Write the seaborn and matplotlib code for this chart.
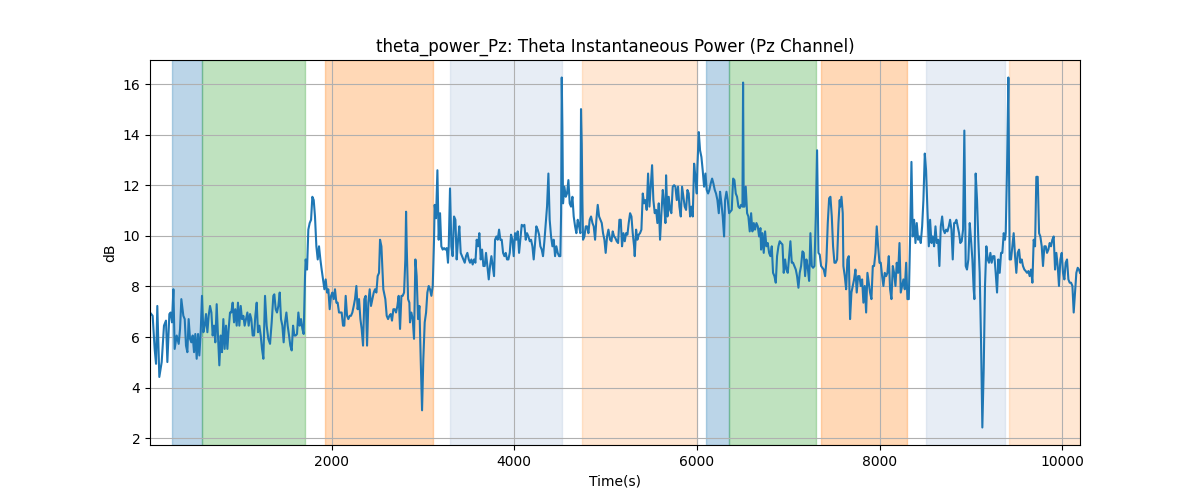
import matplotlib
matplotlib.use("Agg")
import matplotlib.pyplot as plt
import seaborn as sns
import pandas as pd

# ---- data ----
time_s = [
    13, 42, 64, 79, 93, 115, 141, 166, 188, 203, 225, 239, 254, 269, 283, 305, 327, 342, 356, 378,
    393, 407, 422, 436, 451, 466, 480, 495, 509, 524, 539, 553, 568, 582, 597, 612, 626, 641, 655, 670,
    685, 699, 714, 728, 743, 757, 772, 787, 801, 816, 830, 845, 860, 874, 889, 903, 918, 933, 947, 962,
    976, 991, 1006, 1020, 1035, 1049, 1064, 1079, 1093, 1108, 1122, 1137, 1152, 1166, 1181, 1195, 1210,
    1225, 1239, 1254,
    1272, 1290, 1308, 1327, 1345, 1363, 1374, 1389, 1403, 1418, 1433, 1447, 1462, 1476, 1491, 1506, 1520,
    1535, 1549, 1564, 1579, 1593, 1608, 1622, 1637, 1652, 1666, 1681, 1695, 1710, 1717, 1732, 1746, 1761,
    1776, 1790, 1805, 1819, 1834, 1849, 1863, 1878, 1892, 1907, 1922, 1936, 1951, 1965, 1980, 1995, 2009,
    2024, 2038, 2053, 2067, 2082, 2097, 2111, 2126, 2140, 2155, 2170, 2184, 2199, 2213, 2228, 2243, 2257,
    2272, 2286, 2301, 2316, 2330, 2345, 2359, 2374, 2389, 2403, 2418, 2432, 2447, 2462, 2476, 2491, 2505,
    2520,
    2531, 2546, 2567, 2589, 2604, 2619, 2633, 2648, 2662, 2677, 2692, 2706, 2721, 2735, 2750, 2765, 2779,
    2794, 2808, 2816, 2823, 2838, 2852, 2859, 2874, 2889, 2903, 2918, 2932, 2947, 2962, 2976, 2991, 3005,
    3020, 3035, 3049, 3064, 3078, 3093, 3108, 3122, 3129, 3144, 3159, 3173, 3188, 3202, 3217, 3232, 3246,
    3261, 3275, 3283, 3297, 3312, 3326, 3341, 3356, 3370, 3385, 3399, 3414, 3429, 3443, 3458, 3472, 3487,
    3502, 3516, 3531, 3545, 3560, 3575, 3589, 3604, 3618, 3633, 3648, 3662, 3677, 3691, 3706, 3721, 3735,
    3750, 3764, 3779,
    3790, 3805, 3819, 3834, 3848, 3863, 3878, 3892, 3907, 3921, 3936, 3951, 3965, 3980, 3994, 4009, 4024,
    4038, 4053, 4067, 4082, 4097, 4111, 4126, 4140, 4155, 4170, 4184, 4199, 4213, 4228, 4242, 4257, 4272,
    4286, 4301, 4315, 4330, 4345, 4359, 4374, 4388, 4403, 4418, 4432, 4447, 4461, 4476, 4491, 4505, 4513,
    4520, 4527, 4534, 4549, 4564, 4578, 4593, 4607, 4622, 4637, 4651, 4666, 4680, 4695, 4710, 4724, 4731,
    4739, 4746, 4753, 4768, 4783, 4797, 4812, 4826, 4841, 4856, 4870, 4885, 4899, 4914, 4929, 4943, 4958,
    4972, 4987, 5001, 5016, 5031,
    5049, 5064, 5078, 5093, 5107, 5122, 5137, 5151, 5166, 5180, 5195, 5210, 5224, 5239, 5253, 5268, 5283,
    5297, 5312, 5319, 5334, 5348, 5363, 5377, 5392, 5407, 5421, 5436, 5450, 5465, 5480, 5494, 5509, 5523,
    5538, 5553, 5567, 5582, 5596, 5611, 5626, 5640, 5655, 5662, 5677, 5691, 5706, 5720, 5735, 5750, 5764,
    5779, 5793, 5808, 5823, 5837, 5852, 5866, 5881, 5896, 5910, 5925, 5939, 5954, 5969, 5983, 5998, 6005,
    6020, 6034, 6049, 6063, 6078, 6093, 6107, 6122, 6136, 6151, 6166, 6180, 6195, 6209, 6224, 6239, 6253,
    6268, 6282, 6297,
    6308, 6323, 6337, 6352, 6366, 6381, 6396, 6410, 6425, 6439, 6454, 6469, 6483, 6498, 6505, 6512, 6520,
    6534, 6549, 6563, 6578, 6593, 6607, 6622, 6636, 6651, 6666, 6680, 6695, 6702, 6717, 6731, 6746, 6760,
    6775, 6790, 6804, 6819, 6833, 6848, 6863, 6877, 6892, 6906, 6921, 6936, 6950, 6965, 6979, 6994, 7009,
    7023, 7038, 7052, 7067, 7082, 7096, 7111, 7125, 7140, 7155, 7169, 7184, 7198, 7213, 7228, 7242, 7257,
    7271, 7286, 7301, 7315, 7330, 7344, 7359, 7374, 7388, 7403, 7417, 7432, 7447, 7461, 7476, 7490, 7505,
    7519, 7534, 7549, 7563,
    7567, 7582, 7596, 7603, 7618, 7633, 7647, 7662, 7676, 7691, 7706, 7720, 7735, 7749, 7764, 7779, 7793,
    7808, 7822, 7837, 7852, 7866, 7881, 7895, 7910, 7925, 7939, 7954, 7968, 7983, 7998, 8012, 8027, 8041,
    8056, 8071, 8085, 8100, 8114, 8129, 8144, 8158, 8173, 8187, 8202, 8217, 8231, 8246, 8260, 8275, 8290,
    8304, 8319, 8333, 8348, 8362, 8377, 8392, 8406, 8421, 8436, 8450, 8465, 8479, 8494, 8508, 8523, 8538,
    8552, 8567, 8581, 8596, 8611, 8625, 8640, 8654, 8669, 8684, 8698, 8713, 8727, 8742, 8757, 8771, 8786,
    8800, 8815,
    8825, 8840, 8854, 8869, 8883, 8898, 8913, 8927, 8942, 8956, 8971, 8986, 9000, 9015, 9029, 9037, 9044,
    9051, 9066, 9080, 9095, 9110, 9124, 9139, 9153, 9168, 9183, 9197, 9212, 9226, 9241, 9256, 9270, 9285,
    9299, 9314, 9329, 9343, 9358, 9372, 9380, 9394, 9409, 9423, 9438, 9453, 9467, 9482, 9496, 9511, 9526,
    9540, 9555, 9569, 9584, 9599, 9613, 9628, 9642, 9657, 9672, 9686, 9701, 9715, 9730, 9745, 9759, 9774,
    9788, 9803, 9818, 9832, 9847, 9861, 9876, 9890, 9905, 9920, 9934, 9949, 9963, 9978, 9993, 10007, 10022,
    10036, 10051, 10066, 10080, 10095, 10110, 10124, 10139, 10153, 10168, 10182, 10193,
]

power_db = [
    6.97, 6.84, 5.53, 4.94, 7.23, 4.42, 5.01, 6.45, 6.65, 5.01, 6.91, 6.97, 6.58, 7.89, 5.53, 6.06, 5.73, 6.32, 7.50, 6.84,
    6.71, 5.66, 5.40, 6.71, 5.93, 5.79, 6.06, 5.40, 6.12, 5.14, 6.12, 5.27, 6.19, 7.63, 6.19, 6.45, 6.91, 6.19, 6.84, 7.23,
    6.97, 6.06, 6.45, 5.79, 7.30, 6.06, 4.88, 6.06, 5.40, 6.71, 5.53, 6.45, 5.53, 6.32, 6.97, 6.97, 7.36, 6.58, 7.10, 6.45,
    7.36, 6.45, 7.23, 6.71, 6.84, 6.45, 6.71, 6.97, 6.45, 6.91, 6.71, 6.06, 6.06, 6.84, 7.36, 6.19, 6.45,
    6.06, 5.53, 5.14,
    7.63, 6.45, 5.93, 5.73, 6.58, 7.63, 7.69, 7.10, 6.97, 7.23, 7.76, 6.71, 6.45, 5.79, 6.58, 6.97, 6.45,
    6.06, 5.66, 5.47, 6.45, 6.06, 6.06, 6.12, 6.97, 6.45, 6.71, 6.32, 6.12, 8.41, 9.07, 8.67, 10.25, 10.51,
    10.64, 11.55, 11.42, 10.77, 9.59, 9.07, 9.59, 9.07, 8.67, 8.28, 7.89, 8.28, 7.76, 7.89, 7.10, 7.63, 7.76,
    7.50, 7.89, 7.36, 7.36, 6.97, 6.97, 6.97, 6.45, 6.45, 7.63, 6.84, 6.71, 6.84, 6.84, 6.97, 7.23, 7.50,
    8.02, 7.10, 7.50, 6.71, 6.32, 5.66, 7.50, 7.63, 5.66, 7.36, 7.89, 7.23, 7.50, 7.76, 7.89, 7.76, 8.41,
    8.54,
    9.85, 9.59, 7.89, 7.50, 6.84, 6.71, 6.84, 6.91, 6.65, 7.10, 7.10, 6.97, 7.23, 7.63, 6.32, 7.63, 7.63,
    7.76, 9.07, 10.96, 9.59, 7.50, 7.36, 6.58, 6.97, 6.71, 5.93, 9.07, 8.41, 6.71, 7.23, 5.14, 3.10, 5.14,
    6.58, 6.97, 7.76, 8.02, 7.89, 7.63, 8.02, 9.85, 11.23, 10.70, 12.60, 9.85, 10.90, 9.59, 9.46, 9.52, 9.46,
    9.52, 8.94, 9.59, 11.88, 9.59, 9.20, 10.77, 10.64, 9.07, 9.85, 10.38, 9.33, 9.20, 9.07, 8.94, 9.20, 9.33,
    9.07, 8.94, 9.07, 8.87, 9.07, 8.94, 9.85, 9.59, 10.11, 9.07, 9.46, 8.81, 8.81, 9.33, 8.81, 8.28, 8.81,
    9.20, 8.81, 8.41,
    9.85, 9.98, 9.85, 10.25, 9.85, 9.85, 9.33, 9.20, 9.33, 9.07, 9.07, 9.33, 10.05, 9.85, 9.20, 10.11, 9.85,
    10.18, 9.33, 9.85, 10.44, 10.38, 10.44, 9.85, 10.11, 9.98, 9.79, 9.85, 9.59, 9.07, 9.72, 10.38, 10.25, 10.05,
    9.59, 9.46, 9.20, 9.79, 10.51, 11.16, 12.47, 10.64, 9.98, 9.59, 9.85, 9.20, 9.59, 9.33, 9.20, 9.20, 10.90,
    16.27, 14.30, 11.29, 11.95, 11.55, 11.68, 12.21, 11.29, 11.16, 11.55, 10.77, 10.38, 10.11, 10.64, 10.38, 10.11, 15.02,
    13.65, 11.42, 9.85, 9.98, 10.38, 10.38, 10.11, 10.64, 10.77, 10.51, 10.38, 9.85, 10.64, 11.23, 10.77, 10.64, 10.51,
    10.11, 9.85, 9.33, 9.98, 10.25,
    9.85, 9.79, 10.18, 9.98, 9.92, 9.79, 9.72, 10.64, 10.64, 9.59, 10.11, 9.79, 10.11, 10.05, 10.51, 10.90, 10.77,
    10.11, 9.59, 9.20, 10.25, 9.85, 10.05, 10.11, 10.25, 11.68, 11.29, 11.42, 11.03, 12.47, 11.16, 11.95, 12.80, 11.42,
    10.90, 11.03, 10.51, 11.29, 9.85, 10.90, 11.82, 11.29, 10.51, 12.40, 10.77, 11.55, 11.03, 10.90, 11.95, 12.01, 11.95,
    11.42, 11.95, 11.16, 10.77, 11.95, 11.55, 11.16, 11.03, 11.82, 11.68, 10.77, 11.16, 10.77, 12.86, 12.34, 11.68, 12.73,
    14.11, 13.39, 13.12, 12.60, 11.95, 12.47, 11.82, 11.68, 11.82, 12.08, 12.27, 12.08, 11.82, 11.68, 11.42, 10.90, 11.75,
    11.29, 10.77, 9.98,
    11.42, 11.75, 11.42, 10.90, 10.96, 11.03, 12.27, 12.21, 11.68, 11.55, 11.16, 11.10, 11.23, 11.16, 16.07, 11.16, 11.16,
    11.95, 10.90, 10.77, 10.18, 10.90, 10.18, 10.51, 10.25, 10.51, 10.38, 9.98, 10.31, 9.46, 10.11, 9.33, 10.18, 9.59,
    9.72, 9.33, 9.20, 9.59, 8.54, 8.41, 8.15, 9.20, 9.59, 9.79, 9.72, 9.66, 8.54, 9.07, 8.67, 8.54, 9.20,
    9.79, 8.94, 8.94, 8.81, 8.67, 8.41, 7.95, 8.54, 8.81, 9.39, 9.33, 8.41, 9.07, 8.74, 8.22, 10.11, 8.81,
    8.74, 8.81, 10.77, 13.39, 9.33, 9.26, 8.81, 8.74, 8.67, 8.41, 9.00, 10.51, 11.49, 11.55, 10.77, 9.59, 8.94,
    8.94, 9.07, 10.51, 11.42,
    11.16, 11.55, 10.90, 8.81, 8.41, 7.89, 9.07, 9.20, 6.71, 7.76, 8.02, 8.28, 8.67, 7.76, 8.41, 8.41, 8.02,
    8.28, 7.36, 8.02, 6.97, 8.54, 8.15, 7.76, 7.50, 8.81, 8.81, 9.33, 10.38, 9.59, 8.94, 8.94, 8.41, 8.02,
    8.54, 8.41, 8.54, 9.20, 7.89, 7.50, 8.81, 8.54, 8.02, 8.94, 8.54, 9.72, 7.76, 8.02, 8.28, 7.89, 8.94,
    7.50, 7.50, 9.85, 12.93, 9.98, 10.64, 9.72, 10.51, 9.85, 9.98, 9.72, 10.38, 11.42, 13.26, 12.60, 11.03, 9.59,
    10.64, 9.72, 9.98, 9.59, 10.38, 9.72, 9.85, 8.81, 10.38, 10.77, 10.25, 10.11, 10.25, 10.18, 10.38, 10.64, 10.25,
    9.07, 10.51,
    10.51, 10.64, 10.38, 10.11, 9.72, 9.79, 10.25, 14.17, 8.81, 8.67, 9.07, 10.51, 9.85, 9.07, 7.89, 7.50, 10.64,
    12.47, 11.42, 9.85, 8.54, 5.79, 2.42, 4.75, 8.02, 9.59, 9.07, 8.94, 9.33, 8.94, 9.20, 9.20, 8.54, 7.76,
    9.07, 8.54, 9.33, 9.33, 10.11, 9.85, 10.11, 12.60, 16.27, 9.07, 9.07, 9.59, 10.11, 9.20, 8.54, 9.33, 9.46,
    8.94, 9.07, 8.81, 8.67, 8.61, 8.54, 8.61, 8.41, 8.67, 8.15, 9.85, 9.59, 12.34, 12.34, 10.11, 9.98, 9.59,
    8.81, 9.59, 9.59, 9.33, 9.46, 9.72, 9.59, 9.85, 9.98, 8.67, 9.33, 8.81, 8.02, 9.07, 9.33, 8.54, 8.28,
    8.94, 9.07, 8.28, 8.15, 8.15, 8.02, 6.97, 7.76, 8.54, 8.74, 8.67, 8.54,
]

span_start = [254, 579, 1929, 3297, 4746, 6100, 6351, 7358, 8508, 9417]
span_end = [579, 1710, 3108, 4520, 5998, 6351, 7300, 8297, 9373, 10193]
span_kind = ["blue", "green", "orange", "lightblue", "lightorange",
             "blue", "green", "orange", "lightblue", "lightorange"]

title = "theta_power_Pz: Theta Instantaneous Power (Pz Channel)"
x_label = "Time(s)"
y_label = "dB"

# ---- styles ----
span_style = {
    "blue": ("tab:blue", 0.3),
    "green": ("tab:green", 0.3),
    "orange": ("tab:orange", 0.3),
    "lightblue": ("lightsteelblue", 0.3),
    "lightorange": ("tab:orange", 0.18),
}

df = pd.DataFrame({"t": time_s, "v": power_db})

fig, ax = plt.subplots(figsize=(12, 5), dpi=100)
for s, e, k in zip(span_start, span_end, span_kind):
    c, a = span_style[k]
    ax.axvspan(s, e, color=c, alpha=a)

sns.lineplot(data=df, x="t", y="v", ax=ax, color="tab:blue", linewidth=1.5,
             estimator=None, sort=False)

ax.set_xlim(time_s[0], time_s[-1])
ax.set_title(title)
ax.set_xlabel(x_label)
ax.set_ylabel(y_label)
ax.grid(True)

fig.savefig("out.png", dpi=100)
